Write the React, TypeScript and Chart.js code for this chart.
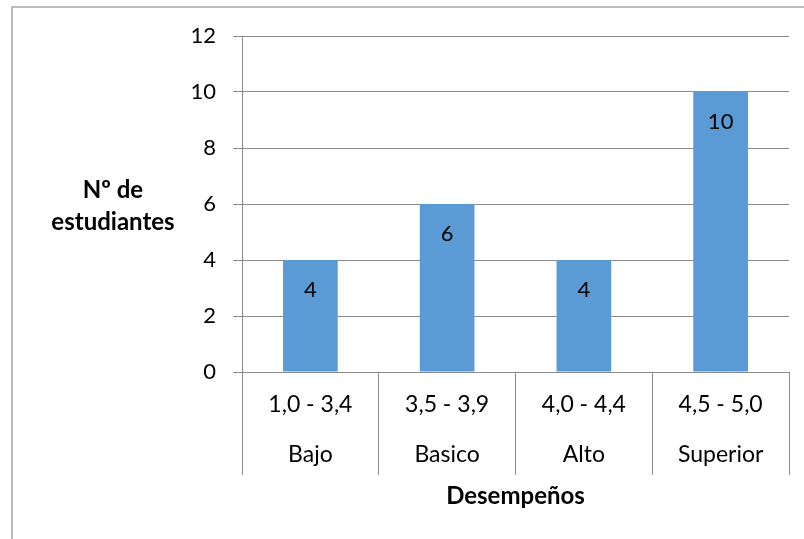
import React, { useEffect, useRef } from "react";
import { Chart, registerables } from "chart.js";

Chart.register(...registerables);

const rangeLabels = ["1,0 - 3,4", "3,5 - 3,9", "4,0 - 4,4", "4,5 - 5,0"];
const levelLabels = ["Bajo", "Basico", "Alto", "Superior"];
const studentCounts = [4, 6, 4, 10];
const yTitleLines = ["Nº de", "estudiantes"];
const xTitle = "Desempeños";

const FONT = "Lato, 'Open Sans', sans-serif";
const AXIS_COLOR = "#8C8C8C";
const BAR_COLOR = "#5B9BD5";

export default function App() {
  const ref = useRef<HTMLCanvasElement | null>(null);

  useEffect(() => {
    if (!ref.current) return;

    const framePlugin = {
      id: "frame",
      beforeDraw(chart: any) {
        const ctx = chart.ctx;
        ctx.save();
        ctx.fillStyle = "#FFFFFF";
        ctx.fillRect(0, 0, chart.width, chart.height);
        ctx.strokeStyle = "#A6A6A6";
        ctx.lineWidth = 1.5;
        ctx.beginPath();
        ctx.moveTo(12, chart.height + 5);
        ctx.lineTo(12, 7);
        ctx.lineTo(chart.width + 5, 7);
        ctx.stroke();
        ctx.restore();
      },
    };

    const labelPlugin = {
      id: "valueLabels",
      afterDatasetsDraw(chart: any) {
        const ctx = chart.ctx;
        const meta = chart.getDatasetMeta(0);
        const data = chart.data.datasets[0].data;
        ctx.save();
        ctx.font = `22px ${FONT}`;
        ctx.fillStyle = "#000000";
        ctx.textAlign = "center";
        ctx.textBaseline = "alphabetic";
        meta.data.forEach((bar: any, i: number) => {
          ctx.fillText(String(data[i]), bar.x, bar.y + 37);
        });
        ctx.restore();
      },
      afterDraw(chart: any) {
        const ctx = chart.ctx;
        ctx.save();
        ctx.font = `bold 24px ${FONT}`;
        ctx.fillStyle = "#000000";
        ctx.textAlign = "center";
        ctx.textBaseline = "alphabetic";
        ctx.fillText(yTitleLines[0], 113, 198);
        ctx.fillText(yTitleLines[1], 113, 230);
        ctx.restore();
      },
    };

    const chart = new Chart(ref.current, {
      type: "bar",
      data: {
        labels: rangeLabels.map((r, i) => [r, levelLabels[i]]),
        datasets: [
          {
            data: studentCounts,
            backgroundColor: BAR_COLOR,
            borderWidth: 0,
            barPercentage: 0.4,
            categoryPercentage: 1,
          },
        ],
      },
      options: {
        responsive: false,
        animation: false,
        devicePixelRatio: 1,
        layout: { padding: { top: 36, right: 15, bottom: 28, left: 0 } },
        plugins: {
          legend: { display: false },
          tooltip: { enabled: false },
        },
        scales: {
          x: {
            grid: {
              display: true,
              drawOnChartArea: false,
              drawTicks: true,
              tickLength: 103,
              color: AXIS_COLOR,
              offset: true,
            },
            border: { display: true, color: AXIS_COLOR },
            ticks: {
              color: "#000000",
              font: { family: FONT, size: 23, lineHeight: 50 / 23 },
              padding: -95,
              maxRotation: 0,
              autoSkip: false,
            },
            title: {
              display: true,
              text: xTitle,
              color: "#000000",
              font: { family: FONT, size: 24, weight: "bold" },
              padding: 0,
            },
            afterFit(scale: any) {
              scale.height = 539 - 28 - 372;
            },
          },
          y: {
            min: 0,
            max: 12,
            grid: {
              color: AXIS_COLOR,
              drawTicks: true,
              tickLength: 9,
            },
            border: { display: true, color: AXIS_COLOR },
            ticks: {
              stepSize: 2,
              color: "#000000",
              font: { family: FONT, size: 22 },
              padding: 17,
            },
            afterFit(scale: any) {
              scale.width = 242;
            },
          },
        },
      },
      plugins: [framePlugin, labelPlugin],
    } as any);

    return () => chart.destroy();
  }, []);

  return (
    <div style={{ position: "absolute", left: 0, top: 0, width: 804, height: 539, background: "#fff" }}>
      <canvas ref={ref} width={804} height={539} style={{ display: "block" }} />
    </div>
  );
}
